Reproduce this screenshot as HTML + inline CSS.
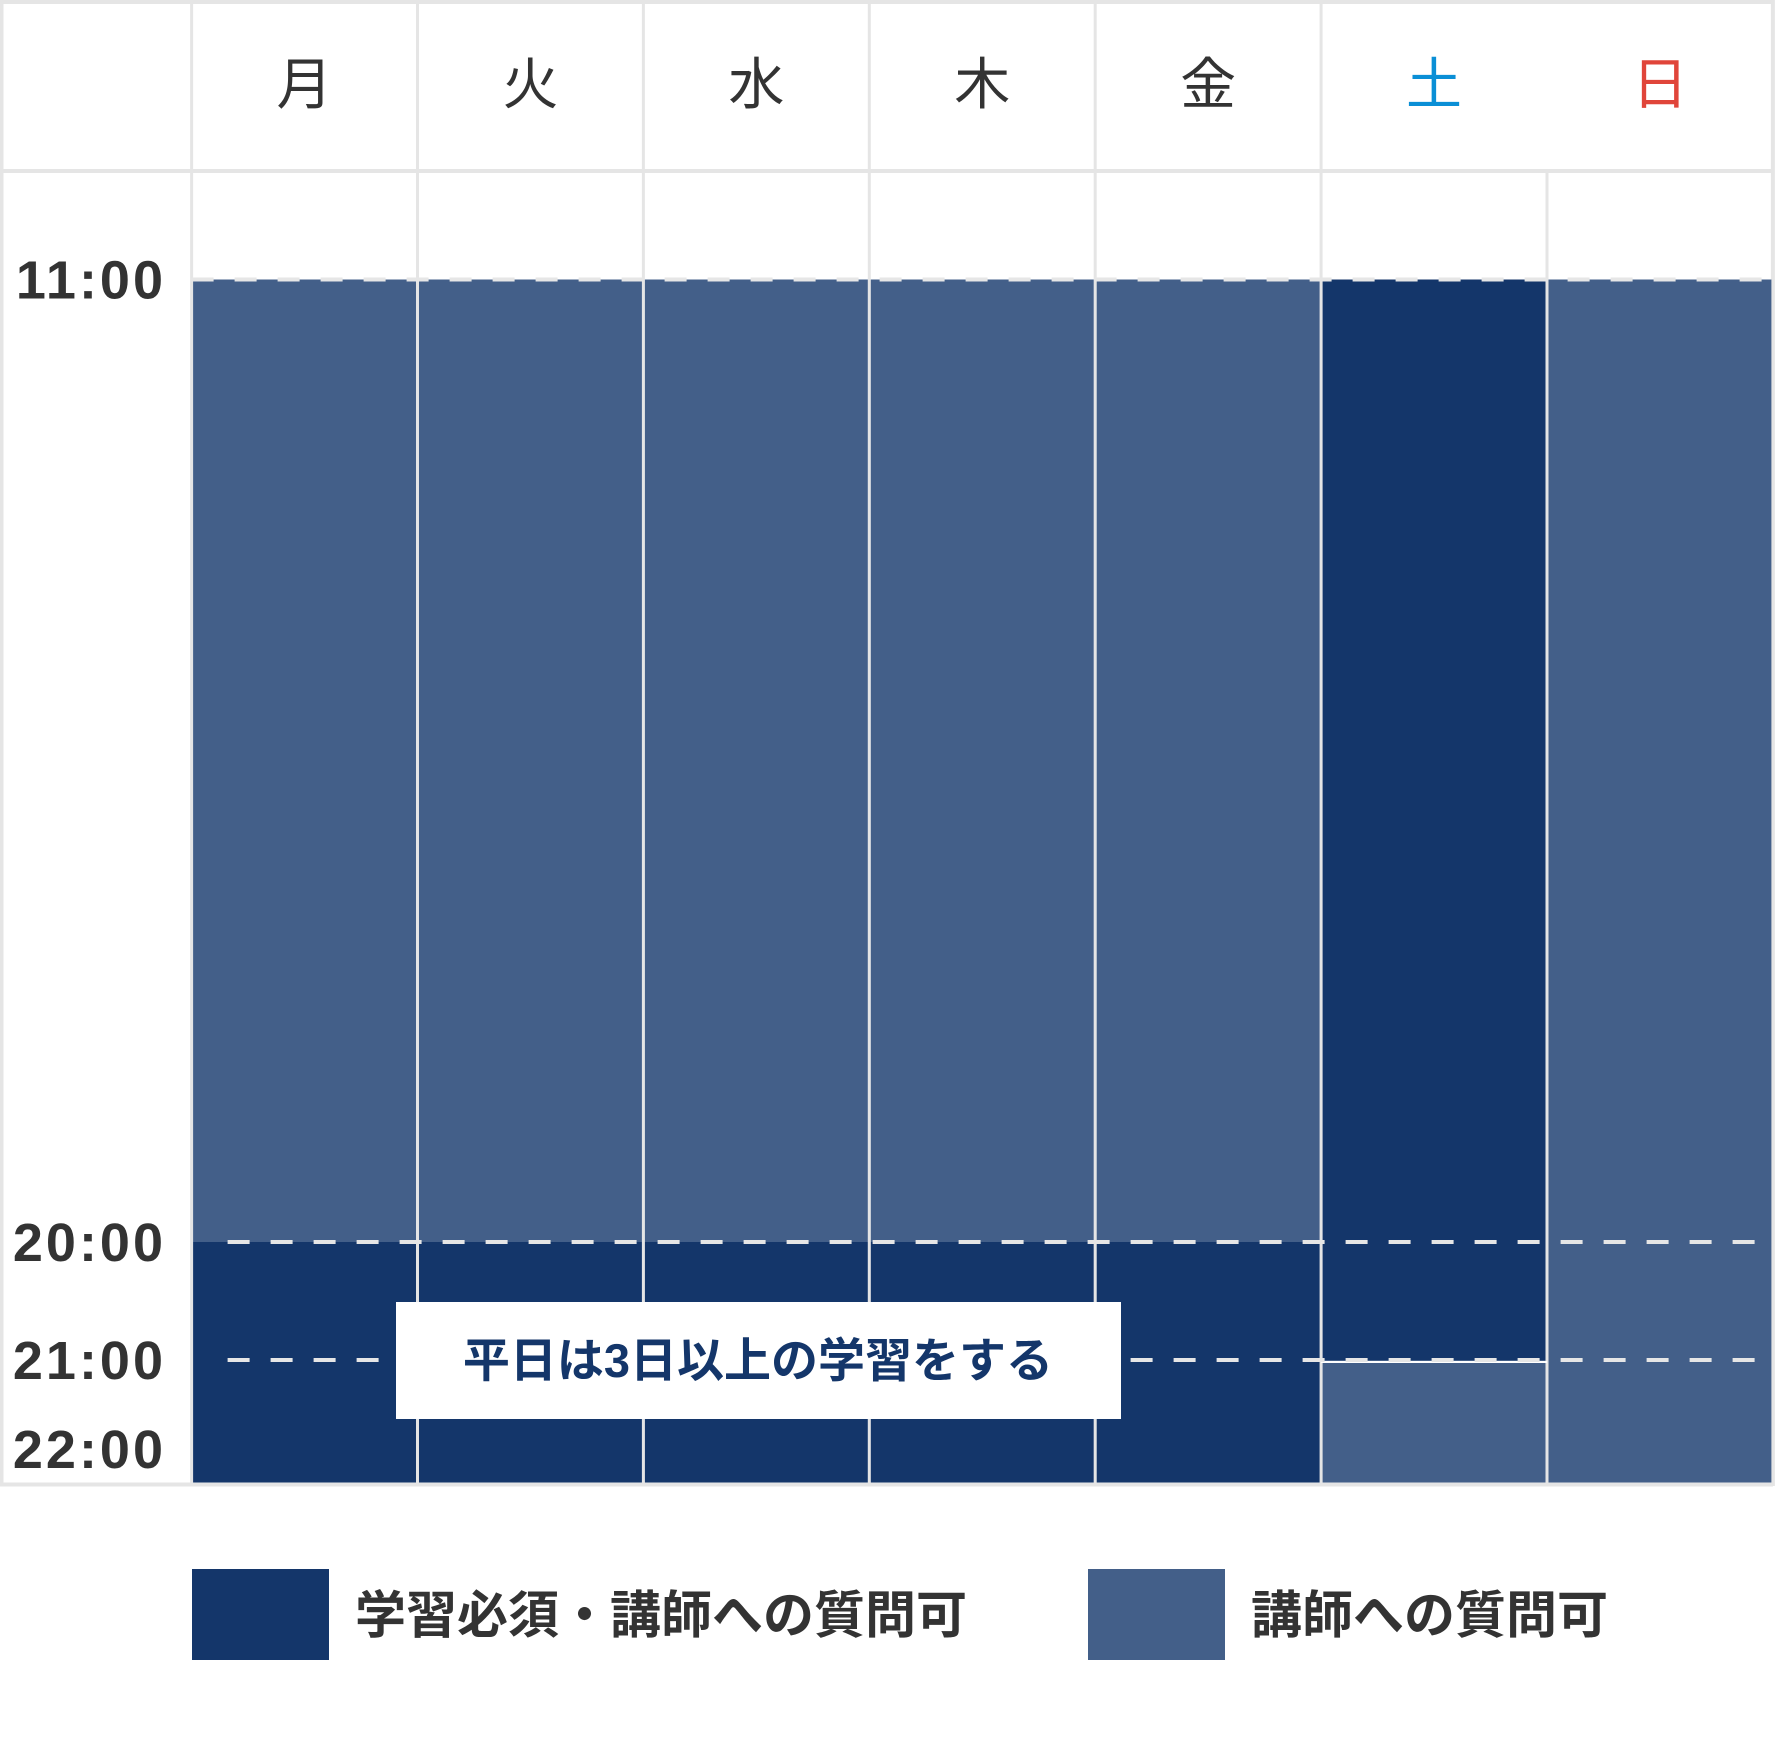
<!DOCTYPE html>
<html><head><meta charset="utf-8"><style>
html,body{margin:0;padding:0;background:#fff;}
svg{display:block;}
text{font-family:"Liberation Sans","Noto Sans CJK JP",sans-serif;}
</style></head><body>
<svg id="chart" width="1780" height="1740" viewBox="0 0 1780 1740" xmlns="http://www.w3.org/2000/svg">
<rect x="0" y="0" width="1780" height="1740" fill="#fff"/>
<g id="grid"></g>
<g id="bars"></g>
<g id="overlay"></g>
</svg>
<script>
const days = ['月','火','水','木','金','土','日'];
const dayColors = ['#333','#333','#333','#333','#333','#0a8fd6','#e0453a'];
const timeTicks = [11, 20, 21, 22];
const tickLabels = ['11:00','20:00','21:00','22:00'];
// segments per day: kind 1 = required (dark), 0 = question only (light)
const segStart = [[11,20],[11,20],[11,20],[11,20],[11,20],[11,21],[11]];
const segEnd   = [[20,22],[20,22],[20,22],[20,22],[20,22],[21,22],[22]];
const segKind  = [[0,1],[0,1],[0,1],[0,1],[0,1],[1,0],[0]];
const legendLabels = ['学習必須・講師への質問可','講師への質問可'];
const note = '平日は3日以上の学習をする';

const NS='http://www.w3.org/2000/svg';
const colX0=191.6, colW=225.9, headerH=171;
const kindColor=['#435f89','#14366a'];
function xScale(i){return colX0+i*colW;}
function yScale(t){
  const bt=[11,20,21,22], by=[279.5,1242,1360,1483];
  for(let k=0;k<bt.length-1;k++){
    if(t<=bt[k+1]) return by[k]+(t-bt[k])/(bt[k+1]-bt[k])*(by[k+1]-by[k]);
  }
  return by[by.length-1];
}
function mk(tag,attrs,parent){const e=document.createElementNS(NS,tag);for(const k in attrs)e.setAttribute(k,attrs[k]);parent.appendChild(e);return e;}
const grid=document.getElementById('grid'),bars=document.getElementById('bars'),ov=document.getElementById('overlay');
const yBottom=yScale(22), xEnd=xScale(7);

let g;
g=mk('line',{x1:0,y1:2,x2:xEnd,y2:2,stroke:'#e5e5e5','stroke-width':4},grid);

g=mk('line',{x1:0,y1:headerH,x2:xEnd,y2:headerH,stroke:'#e5e5e5','stroke-width':4},grid);

g=mk('line',{x1:1.5,y1:0,x2:1.5,y2:yBottom+3,stroke:'#e5e5e5','stroke-width':4},grid);

g=mk('line',{x1:xEnd,y1:0,x2:xEnd,y2:yBottom+3,stroke:'#e5e5e5','stroke-width':4},grid);

for(let i=0;i<7;i++){
  const y1 = (i===6)?headerH:0;
  g=mk('line',{x1:xScale(i),y1:y1,x2:xScale(i),y2:yBottom,stroke:'#e5e5e5','stroke-width':3},grid);
  
  const t=mk('text',{x:xScale(i)+colW/2,y:104,'text-anchor':'middle','font-size':56,fill:dayColors[i]},grid);
  t.textContent=days[i];
  
  
}

for(let i=0;i<days.length;i++){
  for(let s=0;s<segStart[i].length;s++){
    const y0=yScale(segStart[i][s]), y1=yScale(segEnd[i][s]);
    const r=mk('rect',{x:xScale(i)+1.5,y:y0,width:colW-3,height:y1-y0,fill:kindColor[segKind[i][s]]},bars);
    
    
  }
}
g=mk('line',{x1:xScale(5),y1:yScale(21)+2,x2:xScale(6),y2:yScale(21)+2,stroke:'#fff','stroke-width':2},bars);

g=mk('line',{x1:0,y1:yBottom+1.5,x2:xEnd,y2:yBottom+1.5,stroke:'#e5e5e5','stroke-width':4},bars);


for(let k=0;k<timeTicks.length;k++){
  const y=yScale(timeTicks[k]);
  if(k<3){
    g=mk('line',{x1:colX0+(k===0?0:36),y1:y,x2:(k===0?xEnd:1762),y2:y,stroke:'#e6e6e6','stroke-width':4,'stroke-dasharray':'22 21'},ov);
    
  }
  const t=mk('text',{x:166,y:(k===3?y-15:y+19),'text-anchor':'end','font-size':54,'font-weight':'bold','letter-spacing':3,fill:'#333'},ov);
  t.textContent=tickLabels[k];
  
  
}

g=mk('rect',{x:396,y:1302,width:725,height:117,fill:'#fff'},ov);

g=mk('text',{x:758,y:1377,'text-anchor':'middle','font-size':47,'font-weight':'bold',fill:'#14366a'},ov);
g.textContent=note;


const legX=[192,1088];
const legKind=[1,0];
for(let k=0;k<legendLabels.length;k++){
  const r=mk('rect',{x:legX[k],y:1569,width:137,height:91,fill:kindColor[legKind[k]]},ov);
  
  
  const t=mk('text',{x:legX[k]+163,y:1633,'font-size':51,'font-weight':'bold',fill:'#333'},ov);
  t.textContent=legendLabels[k];
  
  
}
</script>
</body></html>
